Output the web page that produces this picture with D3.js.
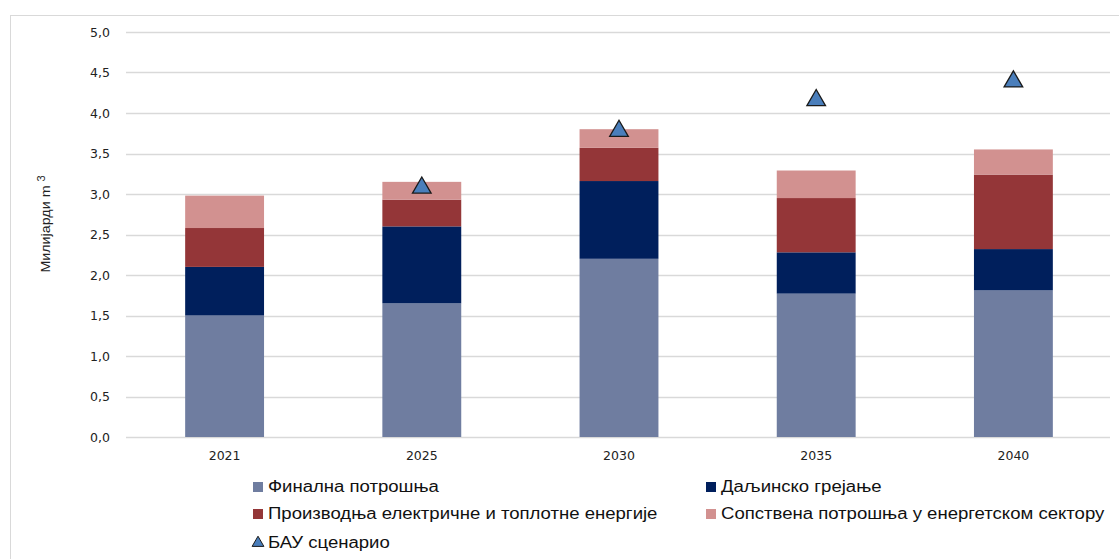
<!DOCTYPE html>
<html><head><meta charset="utf-8">
<script src="https://cdn.jsdelivr.net/npm/d3@7"></script>
<style>body{margin:0;background:#fff;}svg{display:block;}</style>
</head><body><svg id="c" width="1119" height="559"></svg>
<script>
const years = ["2021","2025","2030","2035","2040"];
const seriesNames = ["Финална потрошња","Даљинско грејање","Производња електричне и топлотне енергије","Сопствена потрошња у енергетском сектору"];
const finalCons = [1.50, 1.65, 2.20, 1.77, 1.81];
const districtHeat = [0.60, 0.95, 0.96, 0.51, 0.51];
const powerHeat = [0.48, 0.33, 0.41, 0.67, 0.92];
const ownUse = [0.40, 0.22, 0.23, 0.34, 0.31];
const bau = [null, 3.09, 3.79, 4.17, 4.40];
const bauName = "БАУ сценарио";
const yTicks = [0,0.5,1,1.5,2,2.5,3,3.5,4,4.5,5];
const colors = ["#6f7da0","#001f5c","#943638","#d29190"];

const svg = d3.select("#c");
// outer frame
svg.append("rect").attr("x",10.5).attr("y",15.5).attr("width",1120).attr("height",560)
  .attr("fill","none").attr("stroke","#d9d9d9");

const x = d3.scaleBand().domain(years).range([126,1112]).paddingInner(0.6).paddingOuter(0.3);
const y = d3.scaleLinear().domain([0,5]).range([437,32]);

// gridlines
svg.append("g").selectAll("line").data(yTicks).join("line")
  .attr("x1",126).attr("x2",1110).attr("y1",d=>Math.round(y(d))+0.5).attr("y2",d=>Math.round(y(d))+0.5)
  .attr("stroke","#d9d9d9").attr("stroke-width",1.3);

// y axis labels
const yAxis = d3.axisLeft(y).tickValues(yTicks).tickSize(0).tickPadding(0)
  .tickFormat(d=>d3.format(".1f")(d).replace(".",","));
const ga = svg.append("g").attr("transform","translate(110,0)").call(yAxis);
ga.select(".domain").remove();
ga.selectAll("text").attr("font-family","DejaVu Sans, Verdana, sans-serif").attr("font-size",12.5).attr("fill","#222");

// x axis labels
const xAxis = d3.axisBottom(x).tickSize(0).tickPadding(14);
const gx = svg.append("g").attr("transform","translate(0,437)").call(xAxis);
gx.select(".domain").remove();
gx.selectAll("text").attr("font-family","DejaVu Sans, Verdana, sans-serif").attr("font-size",12.5).attr("fill","#222");

// stacked bars
const rows = years.map((yr,i)=>({year:yr, s0:finalCons[i], s1:districtHeat[i], s2:powerHeat[i], s3:ownUse[i]}));
const stack = d3.stack().keys(["s0","s1","s2","s3"])(rows);
svg.append("g").selectAll("g").data(stack).join("g").attr("fill",(d,i)=>colors[i])
  .selectAll("rect").data(d=>d).join("rect")
  .attr("x",d=>x(d.data.year)).attr("width",x.bandwidth())
  .attr("y",d=>y(d[1])).attr("height",d=>y(d[0])-y(d[1]));

// BAU triangles
const tri = d3.symbol().type(d3.symbolTriangle).size(150);
svg.append("g").selectAll("path").data(years.map((yr,i)=>({yr,v:bau[i]})).filter(d=>d.v!=null)).join("path")
  .attr("d",tri).attr("transform",d=>`translate(${x(d.yr)+x.bandwidth()/2},${y(d.v)+1})`)
  .attr("fill","#4a7ebb").attr("stroke","#1a1a1a").attr("stroke-width",1.3);

// y axis title
svg.append("text").attr("transform","translate(50,224) rotate(-90) scale(1.1,1)").attr("text-anchor","middle")
  .attr("font-family","Liberation Sans, sans-serif").attr("font-size",13).attr("fill","#222")
  .text("Милијарди m ").append("tspan").attr("dy",-5).attr("font-size",10).text("3");

// legend
const legFont = "Liberation Sans, Arial, sans-serif";
const legPos = [[253,487],[706,487],[253,514],[706,514]];
const sx = 1.16;
const lg = svg.append("g");
seriesNames.forEach((n,i)=>{
  lg.append("rect").attr("x",legPos[i][0]).attr("y",legPos[i][1]-5).attr("width",10).attr("height",10).attr("fill",colors[i]);
  lg.append("text").attr("transform",`translate(${legPos[i][0]+15},${legPos[i][1]+5}) scale(${sx},1)`)
    .attr("font-family",legFont).attr("font-size",16).attr("fill","#111").text(n);
});
lg.append("path").attr("d",d3.symbol().type(d3.symbolTriangle).size(60)).attr("transform","translate(258,543)")
  .attr("fill","#4a7ebb").attr("stroke","#1a1a1a").attr("stroke-width",1);
lg.append("text").attr("transform",`translate(268,548) scale(${sx},1)`).attr("font-family",legFont)
  .attr("font-size",16).attr("fill","#111").text(bauName);
</script></body></html>
